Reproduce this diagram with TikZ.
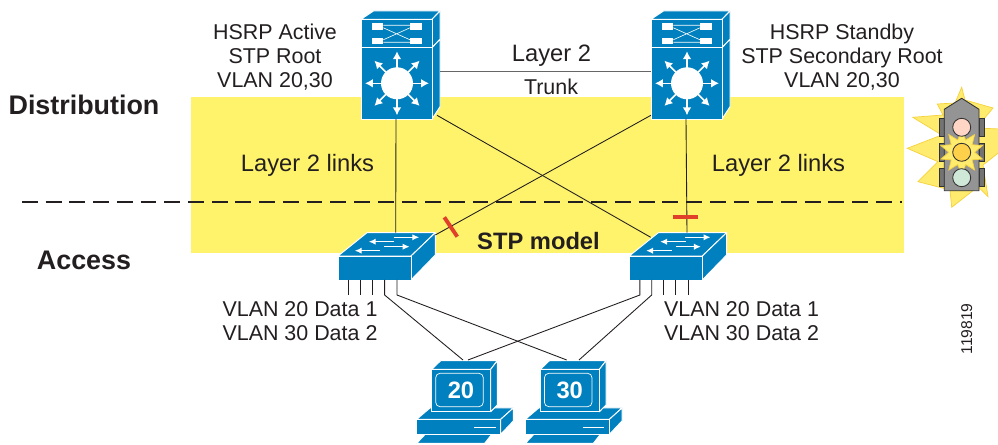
\documentclass[tikz,border=0pt]{standalone}
\usepackage{fontspec}
\setmainfont{Liberation Sans}
\usetikzlibrary{shapes.geometric,arrows.meta}
\definecolor{swblue}{HTML}{0080BE}
\definecolor{bandyellow}{HTML}{FFF36C}
\definecolor{burstyellow}{HTML}{FFEB6E}
\definecolor{burstline}{HTML}{F5D23C}
\definecolor{tickred}{HTML}{E0402A}
\definecolor{txtblack}{HTML}{231F20}
\definecolor{lampred}{HTML}{FFD5C5}
\definecolor{lampamber}{HTML}{FFD04A}
\definecolor{lampgreen}{HTML}{CFE8D8}
\tikzset{
  blueface/.style={fill=swblue,draw=white,line width=0.55pt,line join=round},
  link/.style={draw=txtblack,line width=0.5pt},
  redtick/.style={draw=tickred,line width=2.2pt},
  lbl/.style={text=txtblack,align=center,inner sep=0pt,font=\fontsize{12.2}{13.7}\selectfont},
  biglbl/.style={text=txtblack,align=center,inner sep=0pt,font=\fontsize{13.5}{15}\selectfont},
  headlbl/.style={text=txtblack,inner sep=0pt,font=\fontsize{15.3}{17}\selectfont\bfseries},
  lamp/.style={draw=black!80,line width=0.5pt},
  bigarrow/.style={white,line width=0.9pt,-{Latex[length=4.5pt,width=5pt]}},
  smallarrow/.style={white,line width=0.8pt,-{Latex[length=4pt,width=3.6pt]}},
  % multilayer switch, origin at top left of the front face
  mlswitch/.pic={
    \path[blueface] (0,0) -- (12.5,-8.3) -- (79,-8.3) -- (71,0) -- cycle;
    \path[blueface] (71,0) -- (79,-8.3) -- (79,20) -- (71,28.4) -- cycle;
    \path[blueface] (71,28.4) -- (79,20) -- (79,87.4) -- (71,99.7) -- cycle;
    \path[blueface] (0,0) rectangle (71,28.4);
    \path[blueface] (0,28.4) rectangle (71,99.7);
    \fill[white] (11.3,4) rectangle (22.3,10.7);
    \fill[white] (49,4) rectangle (60.7,10.7);
    \fill[white] (11.3,18.3) rectangle (22.3,25);
    \fill[white] (49,18.3) rectangle (60.7,25);
    \draw[white,line width=0.35pt] (22.3,6) -- (49,6) (22.3,23) -- (49,23)
      (22.3,8.5) -- (49,20.5) (22.3,20.5) -- (49,8.5);
    \fill[white] (36,64) circle (16);
    \foreach \a in {0,45,...,315}
      \draw[bigarrow] (36,64) -- ++(\a:32);
    \coordinate (-east) at (79,52);
    \coordinate (-south) at (35,99.7);
    \coordinate (-se) at (76,96);
    \coordinate (-sw) at (-0.1,96);
  },
  % workgroup switch, origin at top left of the front face
  wgswitch/.pic={
    \path[blueface] (0,0) -- (29,-23.3) -- (97.3,-23.3) -- (73,0) -- cycle;
    \path[blueface] (73,0) -- (97.3,-23.3) -- (97.3,-1) -- (73,24) -- cycle;
    \path[blueface] (0,0) rectangle (73,24);
    \draw[smallarrow] (55.7,-18.7) -- (81.3,-18.7);
    \draw[smallarrow] (56.3,-14.3) -- (30.7,-14.3);
    \draw[smallarrow] (46.3,-9.3) -- (71.7,-9.3);
    \draw[smallarrow] (42.3,-5.3) -- (16.7,-5.3);
    \foreach \n/\x in {1/10.6,2/22.4,3/34.4,4/46.6,5/59}{
      \coordinate (-p\n) at (\x,24);
      \coordinate (-e\n) at (\x,39);
    }
    \coordinate (-north) at (57.7,-23.3);
    \coordinate (-ne) at (97.3,-21);
    \coordinate (-nw) at (21.4,-18.7);
  },
  % desktop, origin at top left of the monitor front
  desktop/.pic={
    \path[blueface] (-6.5,65) -- (-15,74) -- (53,74) -- (60,65) -- cycle;
    \path[blueface] (-15,50) -- (-1.7,38.7) -- (81.6,38.7) -- (69,50) -- cycle;
    \path[blueface] (69,50) -- (81.6,38.7) -- (81.6,51.7) -- (69,65) -- cycle;
    \path[blueface] (-15,50) rectangle (69,65);
    \draw[white,line width=0.9pt] (42.3,58.4) -- (64,58.4);
    \path[blueface] (0,0) -- (9,-8.6) -- (65.6,-8.6) -- (59,0) -- cycle;
    \path[blueface] (59,0) -- (65.6,-8.6) -- (65.6,35.7) -- (59,42.4) -- cycle;
    \path[blueface] (0,0) rectangle (59,42.4);
    \draw[white,line width=0.4pt,rounded corners=2.5pt] (4,4) rectangle (51.6,37.4);
    \node[text=white,inner sep=0pt,font=\fontsize{13.5}{15}\selectfont\bfseries] (-num) at (29.3,21.4) {#1};
  }
}
\begin{document}
\begin{tikzpicture}[x=0.02cm,y=-0.02cm]
\clip (0,0) rectangle (998,445);
\fill[bandyellow] (191,97) rectangle (904,253);
\draw[dashed,draw=txtblack,line width=1.25pt,dash pattern=on 9pt off 4.5pt] (22,202) -- (902,202);

\coordinate (pcAin) at (463,360);
\coordinate (pcAinb) at (468,360);
\coordinate (pcBin) at (566.7,360);
\coordinate (pcBinb) at (579,360);

\pic (distL) at (361,19.3) {mlswitch};
\pic (distR) at (651,19.3) {mlswitch};
\pic (accL) at (338,256) {wgswitch};
\pic (accR) at (629.3,256) {wgswitch};
\pic (pcA) at (431.7,369.3) {desktop=20};
\pic (pcB) at (540.4,369.3) {desktop=30};

\draw[draw=black!60,line width=0.8pt] (distL-east) -- (distR-sw |- distL-east);
\draw[link] (distL-south) -- (accL-north);
\draw[link] (distR-south) -- (accR-north);
\draw[link] (distL-se) -- (accR-nw);
\draw[link] (distR-sw) -- (accL-ne);
\foreach \n in {1,2,3}
  \draw[link] (accL-p\n) -- (accL-e\n);
\foreach \n in {3,4,5}
  \draw[link] (accR-p\n) -- (accR-e\n);
\draw[link] (accL-p4) -- (accL-e4) -- (pcAin);
\draw[link] (accL-p5) -- (accL-e5) -- (pcBin);
\draw[link] (accR-p1) -- (accR-e1) -- (pcAinb);
\draw[link] (accR-p2) -- (accR-e2) -- (pcBinb);

\coordinate (blockLa) at (444.3,217.3);
\coordinate (blockLb) at (457.3,236.7);
\coordinate (blockRa) at (672.7,217.3);
\coordinate (blockRb) at (697.7,217.3);
\draw[redtick] (blockLa) -- (blockLb);
\draw[redtick] (blockRa) -- (blockRb);

% traffic light
\path[fill=burstyellow,draw=burstline,line width=0.4pt] (961.7,87.3) -- (965,100) -- (993,108)
  -- (983,120) -- (983,128.3) -- (1000,129) -- (1000,151.7) -- (983,165) -- (988,196.7) -- (978,186.7)
  -- (951.7,207.3) -- (950,190) -- (918,181.7) -- (938,161.7) -- (907.3,148.3) -- (941.7,135)
  -- (912.7,117.3) -- (943,115) -- (937.3,104) -- (955,103) -- cycle;
\foreach \y in {118,143,168}{
  \draw[lamp,fill=black!55] (939.3,\y) rectangle (944.3,{\y+18});
  \draw[lamp,fill=black!55] (979,\y) rectangle (984,{\y+18});
}
\draw[lamp,fill=black!42] (944.3,109.3) -- (961.7,98.3) -- (979,109.3) -- (979,190.7) -- (944.3,190.7) -- cycle;
\node[star,star points=10,star point ratio=1.7,minimum size=25pt,inner sep=0pt,fill=burstyellow,draw=burstline,line width=0.4pt] (lampburst) at (961.7,152.3) {};
\draw[lamp,fill=lampred] (961.7,127.3) circle (9);
\draw[lamp,fill=lampamber] (lampburst.center) circle (9);
\draw[lamp,fill=lampgreen] (961.7,177.7) circle (9);

\node[lbl] (hsrpA) at (275,57) {HSRP Active\\STP Root\\VLAN 20,30};
\node[lbl] (hsrpS) at (842,57) {HSRP Standby\\STP Secondary Root\\VLAN 20,30};
\node[biglbl] (ltwo) at (551.5,55.5) {Layer 2};
\node[lbl] (trunk) at (551,86.5) {Trunk};
\node[headlbl] (distn) at (84,104.5) {Distribution};
\node[headlbl] (accs) at (84,260.5) {Access};
\node[biglbl] (linksL) at (307.5,165.5) {Layer 2 links};
\node[biglbl] (linksR) at (778.5,165.5) {Layer 2 links};
\node[biglbl,font=\fontsize{13.5}{15}\selectfont\bfseries] (stp) at (538.5,241.5) {STP model};
\node[lbl] (vlanL) at (300,321.5) {VLAN 20 Data 1\\VLAN 30 Data 2};
\node[lbl] (vlanR) at (741.5,321.5) {VLAN 20 Data 1\\VLAN 30 Data 2};
\node[text=txtblack,inner sep=0pt,rotate=90,font=\fontsize{8.9}{10}\selectfont] (figno) at (966.7,329) {119819};
\end{tikzpicture}
\end{document}
